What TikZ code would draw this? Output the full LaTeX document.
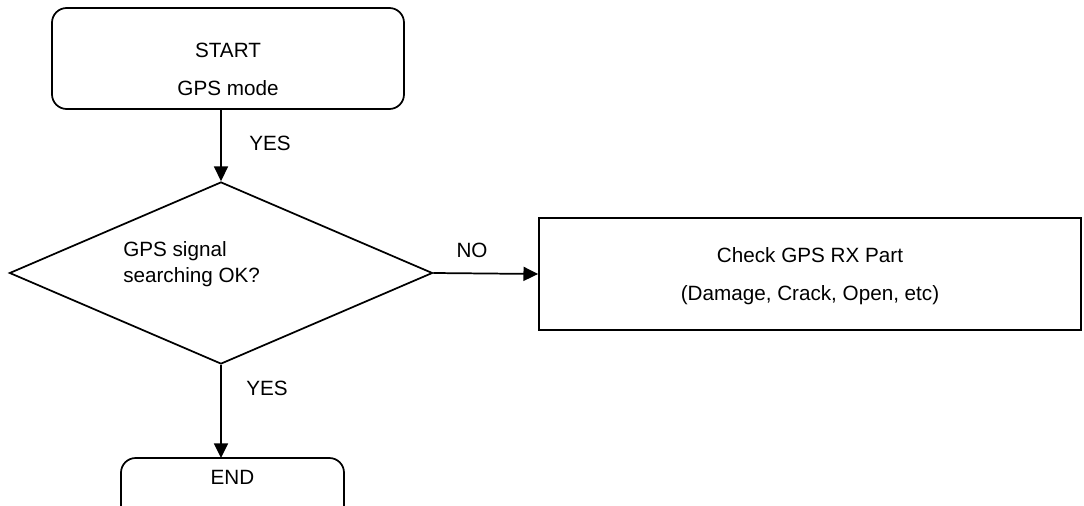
\documentclass[tikz,border=0pt]{standalone}
\usepackage{fontspec}
\setmainfont{Liberation Sans}
\usetikzlibrary{shapes.geometric,arrows.meta}
\begin{document}
\begin{tikzpicture}[x=0.75pt,y=-0.75pt,
  every node/.style={font=\fontsize{15.5}{20}\selectfont, text=black},
  term/.style={draw, line width=1.3pt, rounded corners=11pt, inner sep=0pt},
  proc/.style={draw, line width=1.3pt, inner sep=0pt},
  decide/.style={draw, line width=1.3pt, diamond, inner sep=0pt},
  lbl/.style={inner sep=0pt},
  flow/.style={line width=1.3pt, -{Triangle[length=11pt,width=10.5pt]}}]
\useasboundingbox (0,0) rectangle (1084,506);
\clip (0,0) rectangle (1084,506);
\node[term, minimum width=352*0.75pt, minimum height=101*0.75pt] (start) at (228,58.5) {};
\node[lbl] (t1) at (228,50) {START};
\node[lbl] (t2) at (228,88) {GPS mode};
\node[decide, minimum width=423*0.75pt, minimum height=182*0.75pt] (dia) at (221,273) {};
\node[lbl, align=left, anchor=west] (dt) at (123,264) {GPS signal\\searching OK?};
\node[proc, minimum width=542*0.75pt, minimum height=112*0.75pt] (chk) at (810,274) {};
\node[lbl] (c1) at (810,255) {Check GPS RX Part};
\node[lbl] (c2) at (810,295) {(Damage, Crack, Open, etc)};
\node[term, minimum width=223*0.75pt, minimum height=90*0.75pt] (end) at (232.5,503) {};
\node[lbl] (e1) at (232.5,477) {END};
\coordinate (s1) at (221,109.5);
\draw[flow] (s1) -- (dia.north);
\node[lbl] (yes1) at (270,143) {YES};
\draw[flow] (dia.east) -- (chk.west);
\node[lbl] (no) at (472,250) {NO};
\coordinate (e0) at (221,458);
\draw[flow] (dia.south) -- (e0);
\node[lbl] (yes2) at (267,388) {YES};
\end{tikzpicture}
\end{document}
